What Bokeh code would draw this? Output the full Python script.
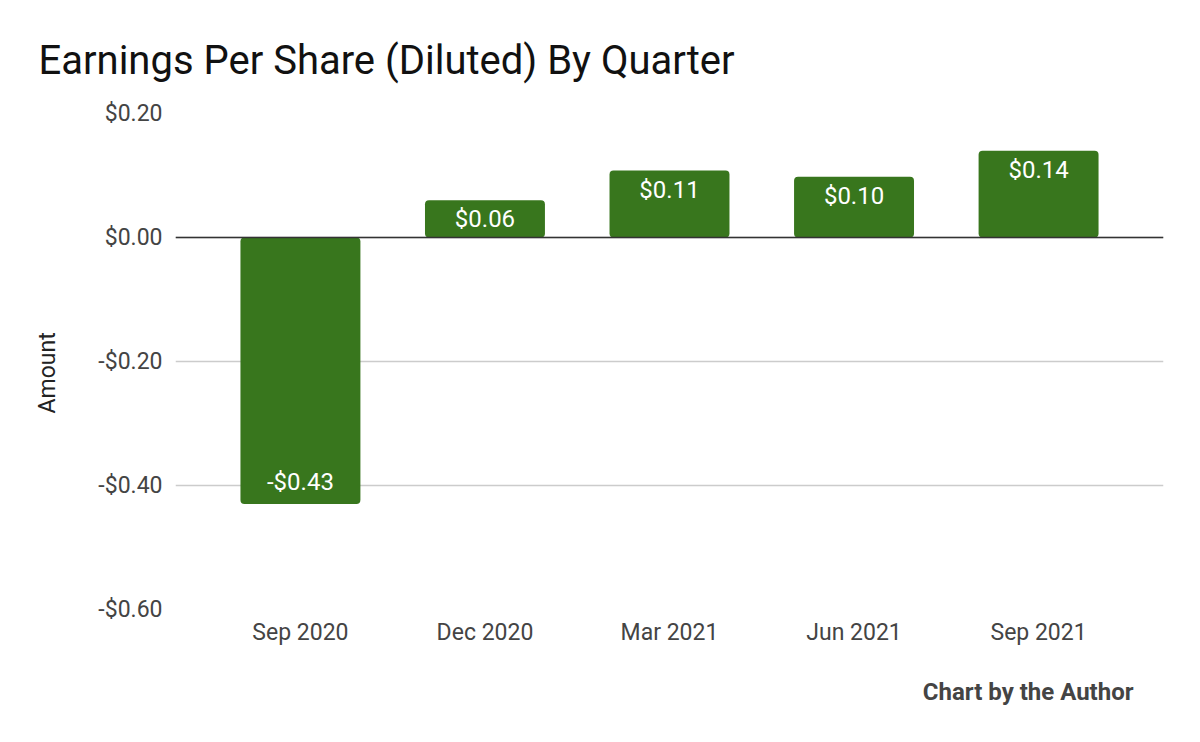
from bokeh.plotting import figure
from bokeh.models import ColumnDataSource, FixedTicker, Span, Title
from bokeh.core.properties import value
from bokeh.embed import file_html
from bokeh.resources import INLINE

quarters = ["Sep 2020", "Dec 2020", "Mar 2021", "Jun 2021", "Sep 2021"]
eps = [-0.43, 0.06, 0.108, 0.098, 0.14]
eps_labels = ["-$0.43", "$0.06", "$0.11", "$0.10", "$0.14"]
y_ticks = [-0.6, -0.4, -0.2, 0.0, 0.2]
y_tick_labels = ["-$0.60", "-$0.40", "-$0.20", "$0.00", "$0.20"]

xs = list(range(len(quarters)))
offsets = [19 if v >= 0 else -22 for v in eps]
src = ColumnDataSource(dict(x=xs, top=eps, label=eps_labels, off=offsets))

FONT = "Roboto"
p = figure(width=1200, height=742, output_backend="svg", toolbar_location=None,
           x_range=(-0.677, 4.677), y_range=(-0.6, 0.2),
           min_border_left=175, min_border_right=37, min_border_top=113, min_border_bottom=133)
p.outline_line_color = None
p.background_fill_color = "white"
p.border_fill_color = "white"

p.title = Title(text="Earnings Per Share (Diluted) By Quarter", align="left", offset=-137,
                text_font=FONT, text_font_size="40px", text_font_style="normal",
                text_color="#111111", standoff=56, vertical_align="top")
p.add_layout(Title(text="Chart by the Author", align="right", offset=30,
                   text_font=FONT, text_font_size="24px", text_font_style="bold",
                   text_color="#444444", standoff=55), "below")

p.vbar(x="x", top="top", bottom=0, width=0.65, source=src, color="#38761d",
       line_color=None, border_radius=4)
p.text(x="x", y="top", text="label", y_offset="off", source=src, text_color="white",
       text_align="center", text_baseline="middle", text_font=value(FONT), text_font_size="24px")

p.add_layout(Span(location=0, dimension="width", line_color="#333333", line_width=1.5))

p.yaxis.ticker = FixedTicker(ticks=y_ticks)
p.yaxis.major_label_overrides = {t: l for t, l in zip(y_ticks, y_tick_labels)}
p.xaxis.ticker = FixedTicker(ticks=xs)
p.xaxis.major_label_overrides = {x: q for x, q in zip(xs, quarters)}
for ax in (p.xaxis, p.yaxis):
    ax.axis_line_color = None
    ax.major_tick_line_color = None
    ax.minor_tick_line_color = None
    ax.major_label_text_font = FONT
    ax.major_label_text_font_size = "23px"
    ax.major_label_text_color = "#444444"
p.yaxis.major_label_standoff = 7
p.xaxis.major_label_standoff = 3
p.yaxis.axis_label = "Amount" + "\u00a0" * 4
p.yaxis.axis_label_text_font = FONT
p.yaxis.axis_label_text_font_size = "23px"
p.yaxis.axis_label_text_font_style = "normal"
p.yaxis.axis_label_text_color = "#222222"
p.yaxis.axis_label_standoff = 34

p.xgrid.grid_line_color = None
p.ygrid.ticker = FixedTicker(ticks=y_ticks)
p.ygrid.grid_line_color = "#cccccc"
p.ygrid.grid_line_width = 1.5

open("out.html", "w").write(file_html(p, INLINE))
